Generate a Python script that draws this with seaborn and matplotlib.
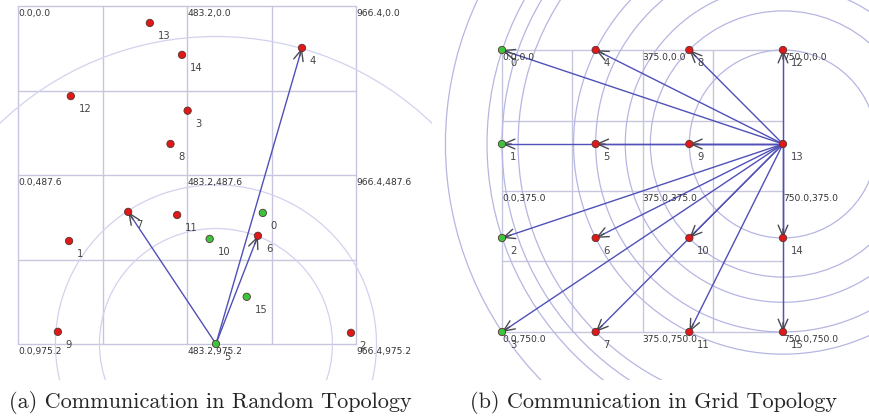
import numpy as np
import pandas as pd
import matplotlib
matplotlib.use("Agg")
import matplotlib.pyplot as plt
from matplotlib.patches import Circle
import seaborn as sns

# (a) random topology
rand_x = [700, 146, 952, 485, 812, 566, 686, 315, 436, 114, 548, 455, 151, 377, 469, 654]
rand_y = [597, 678, 943, 302, 121, 975, 663, 594, 398, 940, 672, 603, 260, 49, 141, 839]
rand_active = [0, 5, 10, 15]
rand_src = 5
rand_dst = [7, 6, 4]
rand_ranges = [333, 459, 887]
rand_grid_x = [0, 241.6, 483.2, 724.8, 966.4]
rand_grid_y = [0, 243.8, 487.6, 731.4, 975.2]
rand_lbl_x = [0.0, 483.2, 966.4]
rand_lbl_y = [0.0, 487.6, 975.2]

# (b) grid topology
grid_x = [0, 0, 0, 0, 250, 250, 250, 250, 500, 500, 500, 500, 750, 750, 750, 750]
grid_y = [0, 250, 500, 750, 0, 250, 500, 750, 0, 250, 500, 750, 0, 250, 500, 750]
grid_active = [0, 1, 2, 3]
grid_src = 13
grid_dst = [0, 4, 8, 12, 1, 5, 9, 2, 6, 10, 14, 3, 7, 11, 15]
grid_ranges = [250, 354, 421, 500, 559, 707, 750, 790, 901]
grid_lines = [0, 187.5, 375, 562.5, 750]
grid_lbl = [0.0, 375.0, 750.0]

captions = ["(a) Communication in Random Topology", "(b) Communication in Grid Topology"]

sns.set_style("white")
fig = plt.figure(figsize=(8.69, 4.2), dpi=100)

LINE = "#c6c6de"
EDGE = "#5050b8"
HEAD = "#4a4a55"
TXT = "#333333"


def draw(ax, xs, ys, active, src, dst, ranges, gx, gy, lx, ly, ring_color, ring_lw):
    df = pd.DataFrame({"x": xs, "y": ys, "id": range(len(xs))})
    df["state"] = np.where(df["id"].isin(active), "on", "off")
    for x in gx:
        ax.plot([x, x], [gy[0], gy[-1]], color=LINE, lw=1, zorder=1)
    for y in gy:
        ax.plot([gx[0], gx[-1]], [y, y], color=LINE, lw=1, zorder=1)
    for r in ranges:
        ax.add_patch(Circle((xs[src], ys[src]), r, fill=False, ec=ring_color, lw=ring_lw, zorder=1))
    for d in dst:
        ax.plot([xs[src], xs[d]], [ys[src], ys[d]], color=EDGE, lw=1.0, zorder=2)
        v = np.array([xs[d] - xs[src], ys[d] - ys[src]], dtype=float)
        v /= np.hypot(*v)
        ax.annotate("", xy=(xs[d], ys[d]), xytext=(xs[d] - v[0] * 25, ys[d] - v[1] * 25),
                    arrowprops=dict(arrowstyle="->,head_length=0.8,head_width=0.35", color=HEAD,
                                    lw=1.0, shrinkA=0, shrinkB=0), zorder=3)
    sns.scatterplot(data=df, x="x", y="y", hue="state", palette={"on": "#3cc43c", "off": "#e01818"},
                    s=28, edgecolor="#553333", linewidth=0.6, legend=False, ax=ax, zorder=4)
    for i, (x, y) in enumerate(zip(xs, ys)):
        ax.annotate(str(i), (x, y), xytext=(8, -13), textcoords="offset pixels",
                    fontsize=7.2, color="#444444", ha="left", va="center", zorder=5)
    for x in lx:
        for y in ly:
            ax.annotate(f"{x:.1f},{y:.1f}", (x, y), xytext=(0, -3), textcoords="offset pixels",
                        fontsize=6.6, color=TXT, ha="left", va="top", zorder=5)
    ax.set_axis_off()


# (a) axes: grid 0..966.4 -> px 18..356 ; 0..975.2 -> px 6..344
ax1 = fig.add_axes([0, 40 / 420, 432 / 869, 380 / 420])
draw(ax1, rand_x, rand_y, rand_active, rand_src, rand_dst, rand_ranges,
     rand_grid_x, rand_grid_y, rand_lbl_x, rand_lbl_y, "#d2d2ee", 0.9)
ax1.set_xlim(-18 * 2.859, 966.4 + 76 * 2.859)
ax1.set_ylim(975.2 + 36 * 2.885, -6 * 2.885)

# (b) axes: grid 0..750 -> px 502..783 ; 0..750 -> px 50..332
ax2 = fig.add_axes([437 / 869, 40 / 420, 432 / 869, 380 / 420])
draw(ax2, grid_x, grid_y, grid_active, grid_src, grid_dst, grid_ranges,
     grid_lines, grid_lines, grid_lbl, grid_lbl, "#b6b6e2", 0.9)
ax2.set_xlim(-65 * 2.669, 750 + 86 * 2.669)
ax2.set_ylim(750 + 48 * 2.66, -50 * 2.66)

fig.text(210 / 869, 1 - 403 / 420, captions[0], family="cmr10", fontsize=16, ha="center", va="center")
fig.text(653 / 869, 1 - 403 / 420, captions[1], family="cmr10", fontsize=16, ha="center", va="center")

fig.savefig("out.png", dpi=100)
